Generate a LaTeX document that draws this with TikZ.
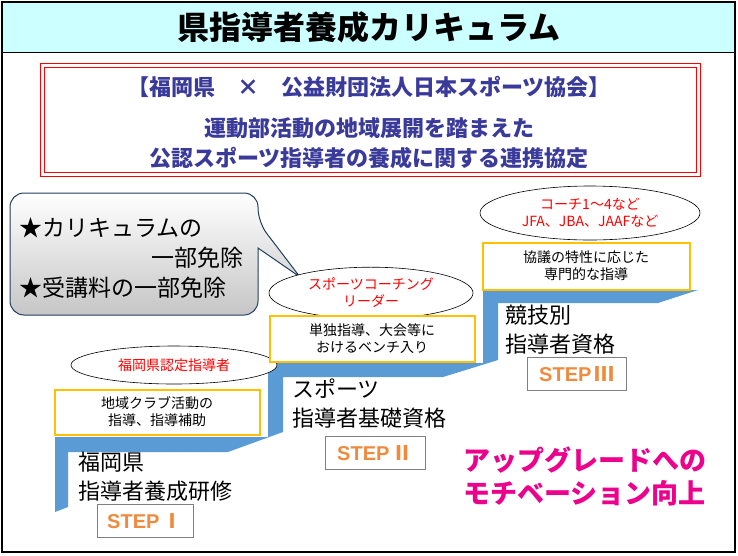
\documentclass[tikz,border=0pt]{standalone}
\usepackage{fontspec}
\setmainfont{Noto Sans CJK JP}
\newfontfamily\stepfont{Liberation Sans}
\newfontfamily\cjk{Noto Sans CJK JP}
\usetikzlibrary{shapes.geometric}
\definecolor{stepblue}{HTML}{5B9BD5}
\definecolor{boxorange}{HTML}{FFC000}
\definecolor{steporange}{HTML}{F08A3C}
\definecolor{hdrblue}{HTML}{3A3A9A}
\definecolor{titlebg}{HTML}{CCFFFF}
\definecolor{callborder}{HTML}{1F3F5F}
\begin{document}
\begin{tikzpicture}[x=1pt,y=-1pt,
  lab/.style={font=\fontsize{14}{17}\selectfont, align=center, text=black},
  redlab/.style={font=\fontsize{14}{17}\selectfont, align=center, text=red},
  obox/.style={draw=boxorange, line width=2.2pt, fill=white},
  ell/.style={draw=black, line width=0.6pt, fill=white, ellipse},
  big/.style={font=\fontsize{22}{29}\selectfont, align=left, anchor=north west, inner sep=0pt},
  stepbox/.style={draw=gray, line width=0.8pt, fill=white, minimum height=33pt, text=steporange, font=\stepfont\bfseries\fontsize{20}{20}\selectfont},
  hdr/.style={font=\bfseries\fontsize{22}{30}\selectfont, text=hdrblue, align=center}]
\useasboundingbox (0,0) rectangle (738,555);
\fill[white] (0,0) rectangle (738,555);
% title band
\fill[titlebg] (2,2) rectangle (735,52);
\draw[black, line width=0.8pt] (2,52) -- (735,52);
\node (title) [font=\bfseries\fontsize{32}{36}\selectfont, text=black] at (369,27) {県指導者養成カリキュラム};
% red double frame
\draw[red, line width=0.8pt] (40,63) rectangle (700,176);
\draw[red, line width=0.8pt] (44,67) rectangle (696,172);
\node (h1) [hdr] at (369,87) {【福岡県　×　公益財団法人日本スポーツ協会】};
\node (h2) [hdr] at (369,143) {運動部活動の地域展開を踏まえた\\公認スポーツ指導者の養成に関する連携協定};
% callout
\shade[top color=white, bottom color=gray!45, draw=callborder, line width=1pt, rounded corners=14pt]
  (10,193) -- (258,193) -- (258,222) [sharp corners] -- (300,277) -- (258,248) [rounded corners=14pt] -- (258,315) -- (10,315) -- cycle;
\node (c1) [font=\fontsize{23}{28}\selectfont, anchor=west] at (16,228) {★カリキュラムの};
\node (c2) [font=\fontsize{23}{28}\selectfont, anchor=east] at (247,258) {一部免除};
\node (c3) [font=\fontsize{23}{28}\selectfont, anchor=west] at (16,288) {★受講料の一部免除};
% staircase
\fill[stepblue] (55,512) -- (55,437) -- (268,437) -- (268,363) -- (483,363) -- (483,290) -- (698,290)
  -- (658,303) -- (498,303) -- (498,360) -- (443,377) -- (283,377) -- (283,432) -- (228,452)
  -- (68,452) -- (68,507) -- cycle;
% step 1
\node (e1) [ell, minimum width=206pt, minimum height=38pt, redlab] at (174,365) {福岡県認定指導者};
\draw[obox] (55,390) rectangle (260,435);
\node (b1) [lab] at (157,412) {地域クラブ活動の\\指導、指導補助};
\node (t1) [big] at (78,452) {福岡県\\指導者養成研修};
\node (s1) [stepbox, minimum width=96pt] at (145,521) {STEP\,{\cjk Ⅰ}};
% step 2
\node (e2) [ell, minimum width=204pt, minimum height=40pt, redlab] at (371,293) {スポーツコーチング\\リーダー};
\draw[obox] (270,316) rectangle (475,362);
\node (b2) [lab] at (372,339) {単独指導、大会等に\\おけるベンチ入り};
\node (t2) [big] at (292,379) {スポーツ\\指導者基礎資格};
\node (s2) [stepbox, minimum width=100pt] at (375,453) {STEP\,{\cjk Ⅱ}};
% step 3
\node (e3) [ell, minimum width=220pt, minimum height=54pt, redlab] at (590,213) {コーチ1～4など\\JFA、JBA、JAAFなど};
\draw[obox] (483,243) rectangle (690,290);
\node (b3) [lab] at (586,266) {協議の特性に応じた\\専門的な指導};
\node (t3) [big] at (505,305) {競技別\\指導者資格};
\node (s3) [stepbox, minimum width=99pt] at (577,374) {STEP\,{\cjk Ⅲ}};
% motivation
\node (mot) [font=\bfseries\fontsize{27}{33}\selectfont, align=left, text=magenta] at (585,476) {アップグレードへの\\モチベーション向上};
% outer border
\draw[black, line width=2pt] (2,2) rectangle (735,552);
\end{tikzpicture}
\end{document}
